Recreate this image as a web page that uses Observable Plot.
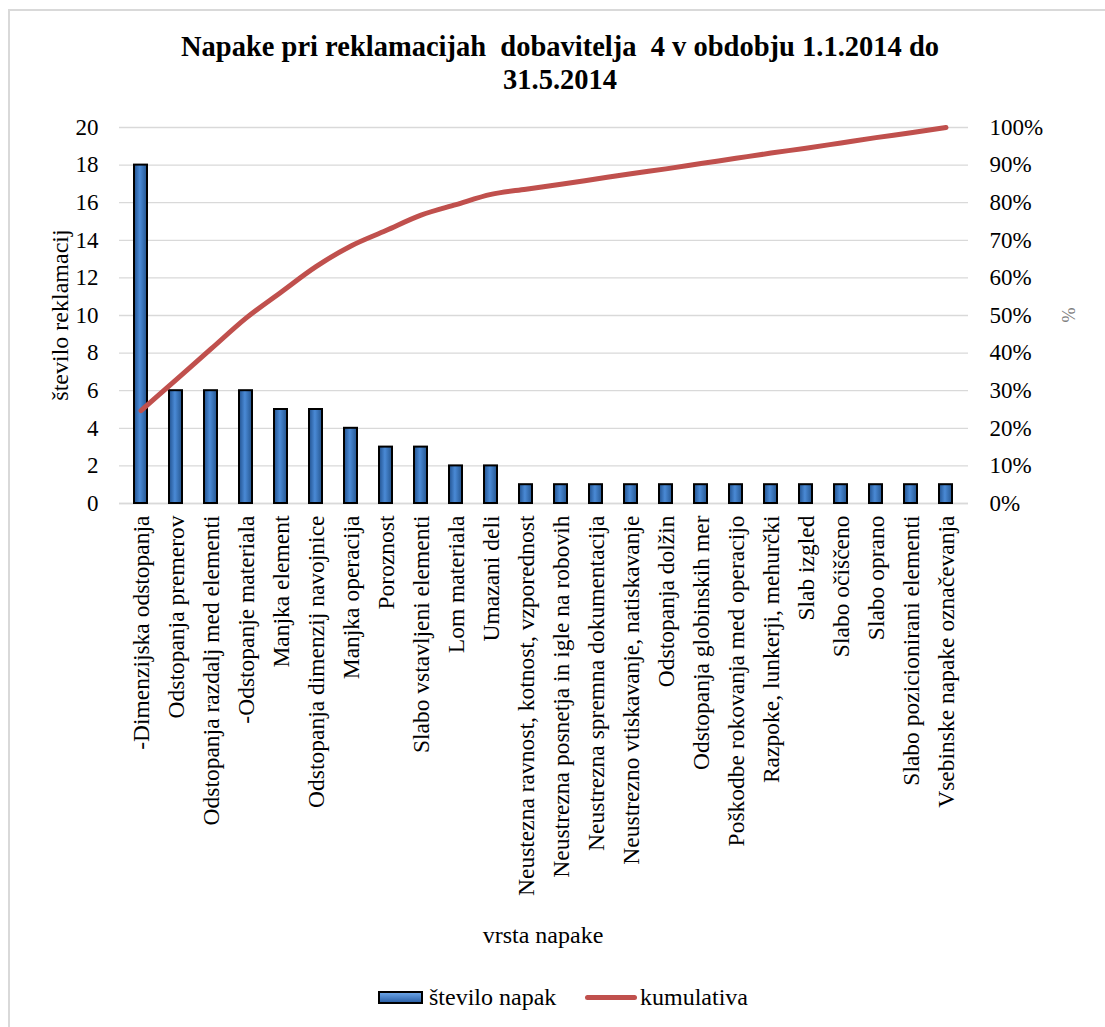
<!DOCTYPE html>
<html>
<head>
<meta charset="utf-8">
<script src="https://cdn.jsdelivr.net/npm/d3@7"></script>
<script src="https://cdn.jsdelivr.net/npm/@observablehq/plot@0.6"></script>
<style>
  body { margin: 0; background: #fff; font-family: "Liberation Serif", serif; }
  #wrap { position: relative; width: 1105px; height: 1027px; overflow: hidden; background: #fff; font-family: "Liberation Serif", serif; }
  #frame { position: absolute; left: 8px; top: 9px; width: 1200px; height: 1100px; border: 2px solid #d9d9d9; box-sizing: border-box; }
  #title { position: absolute; left: 0; top: 30px; width: 1120px; text-align: center; font-weight: bold; font-size: 28.5px; line-height: 33px; color: #000; font-family: "Liberation Serif", serif; }
  .lbl { position: absolute; color: #000; font-size: 24px; line-height: 24px; white-space: nowrap; font-family: "Liberation Serif", serif; }
  #chart { position: absolute; left: 0; top: 0; }
  #chart svg text { font-family: "Liberation Serif", serif !important; font-size: 23px !important; fill: #000; }
  #chart svg g[aria-label="x-axis tick label"] text { font-size: 23.5px !important; }
  #legend { position: absolute; top: 985px; left: 0; width: 1105px; height: 30px; }
</style>
</head>
<body>
<div id="wrap">
  <div id="frame"></div>
  <div id="chart"></div>
  <div id="title">Napake pri reklamacijah&nbsp; dobavitelja&nbsp; 4 v obdobju 1.1.2014 do<br>31.5.2014</div>
  <div class="lbl" id="ylab" style="left:60px; top:315px; transform: translate(-50%,-50%) rotate(-90deg);">število reklamacij</div>
  <div class="lbl" id="y2lab" style="left:1068px; top:315px; transform: translate(-50%,-50%) rotate(90deg); color:#7f7f7f; font-size:18px;">%</div>
  <div class="lbl" id="xlab" style="left:543px; top:935px; transform: translate(-50%,-50%);">vrsta napake</div>
  <div id="legend">
    <div style="position:absolute; left:378px; top:6px; width:45px; height:13px; border:2px solid #000; box-sizing:border-box; background: linear-gradient(#6aa3e6, #2d62a8);"></div>
    <div class="lbl" style="left:429px; top:0px;">število napak</div>
    <div style="position:absolute; left:585px; top:10px; width:52px; height:5px; border-radius:3px; background:#c0504d;"></div>
    <div class="lbl" style="left:640px; top:0px;">kumulativa</div>
  </div>
</div>
<script>
const categories = [
  "-Dimenzijska odstopanja",
  "Odstopanja premerov",
  "Odstopanja razdalj med elementi",
  "-Odstopanje materiala",
  "Manjka element",
  "Odstopanja dimenzij navojnice",
  "Manjka operacija",
  "Poroznost",
  "Slabo vstavljeni elementi",
  "Lom materiala",
  "Umazani deli",
  "Neustezna ravnost, kotnost, vzporednost",
  "Neustrezna posnetja in igle na robovih",
  "Neustrezna spremna dokumentacija",
  "Neustrezno vtiskavanje, natiskavanje",
  "Odstopanja dolžin",
  "Odstopanja globinskih mer",
  "Poškodbe rokovanja med operacijo",
  "Razpoke, lunkerji, mehurčki",
  "Slab izgled",
  "Slabo očiščeno",
  "Slabo oprano",
  "Slabo pozicionirani elementi",
  "Vsebinske napake označevanja"
];
const counts = [18, 6, 6, 6, 5, 5, 4, 3, 3, 2, 2, 1, 1, 1, 1, 1, 1, 1, 1, 1, 1, 1, 1, 1];
const cumulativePct = [24.7, 32.9, 41.1, 49.3, 56.2, 63.0, 68.5, 72.6, 76.7, 79.5, 82.2, 83.6, 84.9, 86.3, 87.7, 89.0, 90.4, 91.8, 93.2, 94.5, 95.9, 97.3, 98.6, 100.0];
const leftTicks = [0, 2, 4, 6, 8, 10, 12, 14, 16, 18, 20];
const rightTicks = [0, 10, 20, 30, 40, 50, 60, 70, 80, 90, 100];

const table = categories.map((c, i) => ({cat: c, n: counts[i], pct: cumulativePct[i]}));

// The line shares the count scale: 100% on the right axis = 20 on the left axis.
const pctToLeft = p => p * 20 / 100;

const defs = () => {
  const d = d3.create("svg:defs");
  const g = d.append("linearGradient").attr("id", "barGrad").attr("x1", "0").attr("x2", "1").attr("y1", "0").attr("y2", "0");
  g.append("stop").attr("offset", "0%").attr("stop-color", "#22528f");
  g.append("stop").attr("offset", "45%").attr("stop-color", "#4a8ad6");
  g.append("stop").attr("offset", "100%").attr("stop-color", "#24558f");
  const f = d.append("filter").attr("id", "shadow").attr("x", "-5%").attr("y", "-5%").attr("width", "110%").attr("height", "120%");
  f.append("feDropShadow").attr("dx", "1").attr("dy", "2").attr("stdDeviation", "1.5").attr("flood-color", "#000").attr("flood-opacity", "0.35");
  return d.node();
};

const chart = Plot.plot({
  width: 1105,
  height: 960,
  marginLeft: 119,
  marginRight: 137,
  marginTop: 127,
  marginBottom: 457,
  style: {fontFamily: "'Liberation Serif', serif", fontSize: "23px", color: "#000", background: "transparent"},
  x: {domain: categories, paddingInner: 0.62, paddingOuter: 0.31, align: 0.5},
  y: {domain: [0, 20]},
  marks: [
    defs,
    Plot.gridY(leftTicks, {stroke: "#d9d9d9", strokeOpacity: 1, strokeWidth: 1.3}),
    Plot.ruleY([0], {stroke: "#d9d9d9", strokeWidth: 1.5}),
    Plot.barY(table, {x: "cat", y: "n", fill: "url(#barGrad)", stroke: "#000", strokeWidth: 2}),
    Plot.line(table, {x: "cat", y: d => pctToLeft(d.pct), stroke: "#c0504d", strokeWidth: 5, strokeLinecap: "round", strokeLinejoin: "round", curve: "monotone-x"}),
    Plot.axisY(leftTicks, {anchor: "left", tickSize: 0, tickPadding: 21, label: null}),
    Plot.axisY(rightTicks.map(pctToLeft), {anchor: "right", tickSize: 0, tickPadding: 21, label: null, tickFormat: d => Math.round(d * 5) + "%", textAnchor: "start"}),
    Plot.axisX({anchor: "bottom", tickSize: 0, tickPadding: 12, tickRotate: -90, label: null})
  ]
});
d3.select(chart).selectAll("path").filter(function() { return this.getAttribute("stroke") === "#c0504d"; }).attr("filter", "url(#shadow)");
document.getElementById("chart").appendChild(chart);
</script>
</body>
</html>
